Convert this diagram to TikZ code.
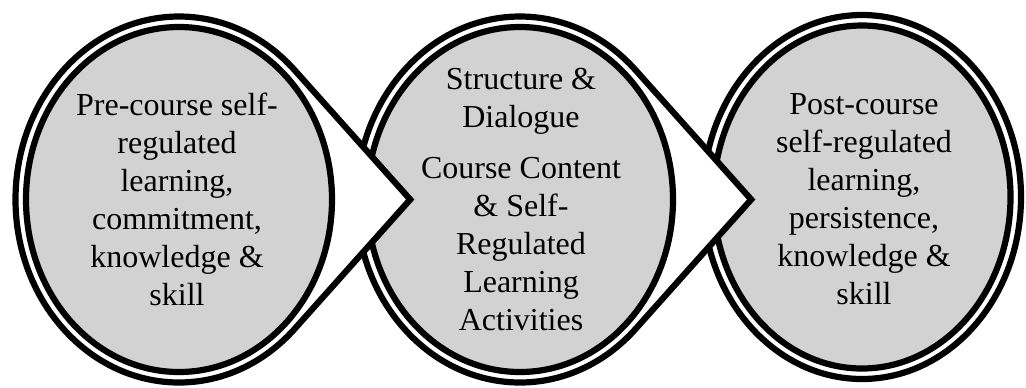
\documentclass[tikz,border=0pt]{standalone}
\usepackage{fontspec}
\setmainfont{Liberation Serif}
\definecolor{bubblegray}{RGB}{210,210,210}
\tikzset{
  outerline/.style={draw=black, fill=white, line width=3.1pt, line join=miter},
  innerline/.style={draw=black, fill=bubblegray, line width=3.1pt},
  label/.style={align=center, inner sep=0pt, font=\fontsize{16}{19}\selectfont}
}
\begin{document}
\begin{tikzpicture}[x=0.5pt,y=-0.5pt]
\useasboundingbox (0,0) rectangle (1026,387);
% third ellipse (no tail)
\begin{scope}[shift={(862,197)}]
  \path[outerline] (0,0) ellipse[x radius=159, y radius=182];
  \path[innerline] (0,0) ellipse[x radius=148.5, y radius=171.5];
\end{scope}
% second ellipse with tail
\begin{scope}[shift={(520,199.5)}]
  \path[outerline] (231.2,0) -- (115.6,-129.4)
    arc[start angle=-45, end angle=-315, x radius=163.5, y radius=183] -- cycle;
  \path[innerline] (0,0) ellipse[x radius=153, y radius=172.5];
\end{scope}
% first ellipse with tail
\begin{scope}[shift={(179,199.5)}]
  \path[outerline] (231.2,0) -- (115.6,-129.4)
    arc[start angle=-45, end angle=-315, x radius=163.5, y radius=183] -- cycle;
  \path[innerline] (0,0) ellipse[x radius=153, y radius=172.5];
\end{scope}
% texts
\node[label] (pre) at (177,199) {Pre-course self-\\regulated\\learning,\\commitment,\\knowledge \&\\skill};
\node[label] (mid) at (521,199.5) {Structure \&\\Dialogue\\[6.5pt]Course Content\\\& Self-\\Regulated\\Learning\\Activities};
\node[label] (post) at (864,199) {Post-course\\self-regulated\\learning,\\persistence,\\knowledge \&\\skill};
\end{tikzpicture}
\end{document}
